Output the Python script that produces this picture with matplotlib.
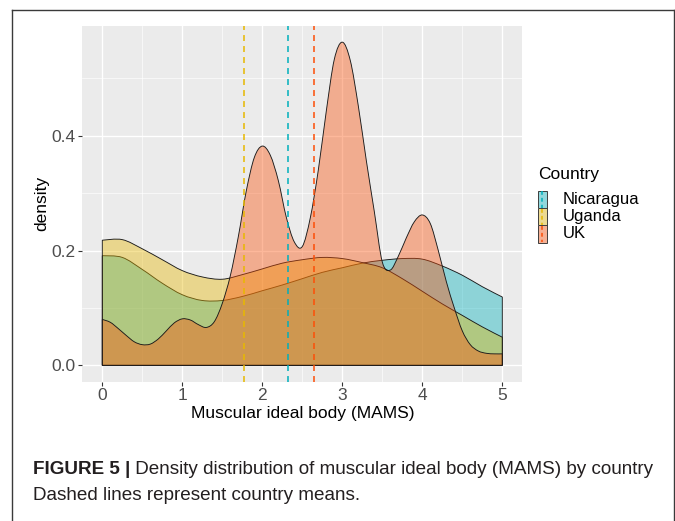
import matplotlib
matplotlib.use("Agg")
import matplotlib.pyplot as plt
import numpy as np
from matplotlib import font_manager
from matplotlib.patches import Rectangle, PathPatch
from matplotlib.path import Path
from matplotlib.lines import Line2D
from matplotlib.colors import to_rgba
from matplotlib.ticker import MultipleLocator

# ---------------- data ----------------
countries = ["Nicaragua", "Uganda", "UK"]
colors = ["#00AFBB", "#E7B800", "#FC4E07"]

x_smooth = [0.0, 0.25, 0.5, 0.75, 1.0, 1.25, 1.5, 1.75, 2.0, 2.25, 2.5,
            2.75, 3.0, 3.25, 3.5, 3.75, 4.0, 4.25, 4.5, 4.75, 5.0]
nicaragua_density = [0.191, 0.188, 0.167, 0.143, 0.123, 0.113, 0.113, 0.120,
                     0.130, 0.140, 0.151, 0.162, 0.170, 0.178, 0.183, 0.186,
                     0.185, 0.173, 0.157, 0.137, 0.119]
uganda_density = [0.218, 0.219, 0.203, 0.184, 0.165, 0.154, 0.150, 0.158,
                  0.168, 0.178, 0.184, 0.188, 0.186, 0.179, 0.170, 0.151,
                  0.129, 0.107, 0.087, 0.067, 0.049]

x_uk = [0.0, 0.1, 0.2, 0.3, 0.4, 0.5, 0.6, 0.7, 0.8, 0.9, 1.0, 1.1, 1.2, 1.3,
        1.4, 1.5, 1.6, 1.7, 1.8, 1.9, 2.0, 2.1, 2.2, 2.3, 2.4, 2.5, 2.6, 2.7,
        2.8, 2.9, 3.0, 3.1, 3.2, 3.3, 3.4, 3.5, 3.6, 3.7, 3.8, 3.9, 4.0, 4.1,
        4.2, 4.3, 4.4, 4.5, 4.6, 4.7, 4.8, 4.9, 5.0]
uk_density = [0.080, 0.075, 0.064, 0.052, 0.041, 0.036, 0.037, 0.046, 0.060,
              0.074, 0.081, 0.079, 0.071, 0.066, 0.076, 0.108, 0.156, 0.224,
              0.304, 0.362, 0.382, 0.366, 0.322, 0.258, 0.215, 0.207, 0.257,
              0.340, 0.443, 0.533, 0.563, 0.531, 0.452, 0.357, 0.268, 0.180,
              0.166, 0.190, 0.222, 0.250, 0.262, 0.247, 0.200, 0.146, 0.100,
              0.060, 0.036, 0.025, 0.021, 0.020, 0.020]

country_means = [2.317, 1.776, 2.647]

x_ticks = [0, 1, 2, 3, 4, 5]
y_ticks = [0.0, 0.2, 0.4]
y_tick_labels = ["0.0", "0.2", "0.4"]

# ---------------- figure ----------------
W, H = 675, 521
fig = plt.figure(figsize=(W / 100, H / 100), dpi=100)
fig.patch.set_facecolor("white")
FONT = "Liberation Sans"
plt.rcParams["font.family"] = [FONT, "DejaVu Sans"]


def fx(px):
    return px / W


def fy(py):
    return 1 - py / H


def smooth_area_path(xs, ys):
    """Closed area path whose top edge is a Catmull-Rom curve through the points."""
    xs = np.asarray(xs, float)
    ys = np.asarray(ys, float)
    n = len(xs)
    verts = [(xs[0], 0.0), (xs[0], ys[0])]
    codes = [Path.MOVETO, Path.LINETO]
    for i in range(n - 1):
        p0 = np.array([xs[max(i - 1, 0)], ys[max(i - 1, 0)]])
        p1 = np.array([xs[i], ys[i]])
        p2 = np.array([xs[i + 1], ys[i + 1]])
        p3 = np.array([xs[min(i + 2, n - 1)], ys[min(i + 2, n - 1)]])
        c1 = p1 + (p2 - p0) / 6.0
        c2 = p2 - (p3 - p1) / 6.0
        verts += [tuple(c1), tuple(c2), tuple(p2)]
        codes += [Path.CURVE4, Path.CURVE4, Path.CURVE4]
    verts += [(xs[-1], 0.0), (xs[0], 0.0)]
    codes += [Path.LINETO, Path.CLOSEPOLY]
    return Path(verts, codes)


ax = fig.add_axes([fx(82.3), fy(381.5), (522.3 - 82.3) / W, (381.5 - 26) / H])
ax.set_facecolor("#EBEBEB")

series = [
    (x_smooth, nicaragua_density),
    (x_smooth, uganda_density),
    (x_uk, uk_density),
]
for (xs, ys), c in zip(series, colors):
    patch = PathPatch(smooth_area_path(xs, ys), facecolor=to_rgba(c, 0.4),
                      edgecolor="#1a1a1a", linewidth=0.65, zorder=3)
    ax.add_patch(patch)

for m, c in zip(country_means, colors):
    ax.axvline(m, color=c, linewidth=1.1, linestyle=(0, (3.9, 3.3)), zorder=4)

ymax = max(max(nicaragua_density), max(uganda_density), max(uk_density))
pad = 0.05 * ymax
ax.set_ylim(-pad, ymax + pad)
ax.set_xlim(-0.25, 5.25)

ax.set_xticks(x_ticks)
ax.set_xticklabels([str(t) for t in x_ticks])
ax.set_yticks(y_ticks)
ax.set_yticklabels(y_tick_labels)
ax.xaxis.set_minor_locator(MultipleLocator(0.5))
ax.yaxis.set_minor_locator(MultipleLocator(0.1))
ax.grid(which="major", color="white", linewidth=0.95, zorder=0)
ax.grid(which="minor", color="white", linewidth=0.45, zorder=0)
ax.set_axisbelow(True)
for s in ax.spines.values():
    s.set_visible(False)
ax.tick_params(which="major", length=3.2, width=0.8, color="#333333",
               labelcolor="#4D4D4D", labelsize=12.5, pad=1.8)
ax.tick_params(which="minor", length=0)

ax.set_xlabel("Muscular ideal body (MAMS)", fontsize=12.5, color="black",
              labelpad=1.5)
ax.set_ylabel("density", fontsize=12.5, color="black", labelpad=1.5)

# ---------------- legend ----------------
fig.text(fx(538), fy(175), "Country", fontsize=12.5, va="center", ha="left")
key_tops = [190.7, 208.0, 225.3]
key_h = 17.3
key_w = 9.0
key_x = 537.5
for top, c, lab in zip(key_tops, colors, countries):
    bg = Rectangle((fx(key_x), fy(top + key_h)), key_w / W, key_h / H,
                   transform=fig.transFigure, facecolor="#F2F2F2",
                   edgecolor="none")
    fig.add_artist(bg)
    r = Rectangle((fx(key_x), fy(top + key_h)), key_w / W, key_h / H,
                  transform=fig.transFigure, facecolor=to_rgba(c, 0.4),
                  edgecolor="#333333", linewidth=0.65)
    fig.add_artist(r)
    cx = fx(key_x + key_w / 2)
    fig.add_artist(Line2D([cx, cx], [fy(top + 0.5), fy(top + key_h - 0.5)],
                          transform=fig.transFigure, color=c, linewidth=1.1,
                          linestyle=(0, (2.5, 2.0))))
    fig.text(fx(563), fy(top + key_h / 2), lab, fontsize=12, va="center",
             ha="left")

# ---------------- frame ----------------
fc = "#3a3a3a"
fig.add_artist(Line2D([fx(11.5), fx(11.5)], [fy(525), fy(9.5)],
                      transform=fig.transFigure, color=fc, linewidth=1.0))
fig.add_artist(Line2D([fx(11.5), fx(673.5)], [fy(9.5), fy(9.5)],
                      transform=fig.transFigure, color=fc, linewidth=1.0))
fig.add_artist(Line2D([fx(673.5), fx(673.5)], [fy(9.5), fy(525)],
                      transform=fig.transFigure, color=fc, linewidth=1.0))

# ---------------- caption ----------------
names = {f.name for f in font_manager.fontManager.ttflist}
cap_font = "Liberation Sans Narrow" if "Liberation Sans Narrow" in names else FONT
cap_color = "#231F20"
fig.canvas.draw()
renderer = fig.canvas.get_renderer()

bold_txt = "FIGURE 5 |"
rest_txt = " Density distribution of muscular ideal body (MAMS) by country"
size0 = 12.0
t1 = fig.text(fx(33), fy(470), bold_txt, fontsize=size0, fontweight="bold",
              family=cap_font, color=cap_color, va="center", ha="left")
t2 = fig.text(0, fy(470), rest_txt, fontsize=size0, family=cap_font,
              color=cap_color, va="center", ha="left")
w1 = t1.get_window_extent(renderer).width
w2 = t2.get_window_extent(renderer).width
target = 657 - 33
size = size0 * target / (w1 + w2)
t1.set_fontsize(size)
t2.set_fontsize(size)
w1 = t1.get_window_extent(renderer).width
t2.set_x(fx(33 + w1))
fig.text(fx(33), fy(496), "Dashed lines represent country means.",
         fontsize=size, family=cap_font, color=cap_color, va="center",
         ha="left")

fig.savefig("out.png", dpi=100, facecolor="white")
